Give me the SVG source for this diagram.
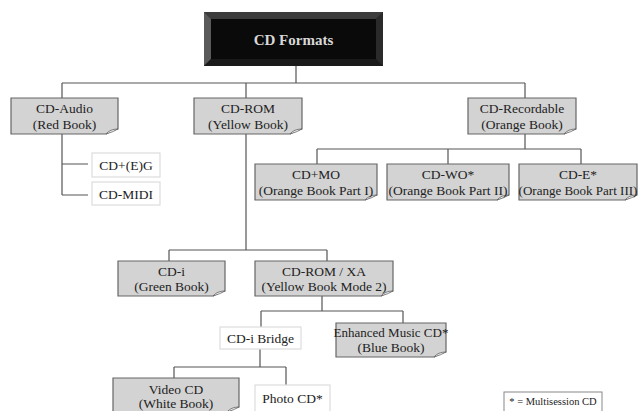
<svg xmlns="http://www.w3.org/2000/svg" width="639" height="411" viewBox="0 0 639 411">
<style>
.n{fill:#d3d3d3;stroke:#666;stroke-width:1.2}
.curl{fill:#f0f0f0;stroke:#666;stroke-width:0.8}
.w{fill:#fff;stroke:#ddd;stroke-width:1.2}
.t{font-family:"Liberation Serif","Times New Roman",serif;font-size:13.5px;fill:#222;text-anchor:middle}
.s{font-size:13px}
.c{stroke:#555;stroke-width:1.2;fill:none}
</style>
<rect width="639" height="411" fill="#fff"/>
<g id="connectors" class="c">
<path d="M296 66V83M62 83H525M62 83V98M246 83V98M525 83V98"/>
<path d="M62 134V195M62 164H88M62 195H88"/>
<path d="M246 134V250M169 250H327M169 250V261M327 250V261"/>
<path d="M525 134V149M317 149H581M317 149V164M448 149V164M581 149V164"/>
<path d="M322 296V311M261 311H403M261 311V327M403 311V323"/>
<path d="M260 349V367M174 367H286M174 367V378M286 367V385"/>
</g>
<g id="root">
<rect x="204" y="12" width="179" height="54" fill="#222"/>
<polygon points="204,12 383,12 376,19 211,19" fill="#3c3c3c"/>
<polygon points="204,12 211,19 211,59 204,66" fill="#5a5a5a"/>
<polygon points="383,12 383,66 376,59 376,19" fill="#2a2a2a"/>
<polygon points="204,66 211,59 376,59 383,66" fill="#1a1a1a"/>
<rect x="211" y="19" width="165" height="40" fill="#0a0a0a"/>
<text x="293.5" y="45" style="font-family:'Liberation Serif','Times New Roman',serif;font-size:15px;font-weight:bold;fill:#d8d8d8;text-anchor:middle">CD Formats</text>
</g>
<g id="cd-audio">
<path class="n" d="M11 98H118V129Q112 130 106 134H11Z"/><path class="curl" d="M106 134Q110 129 118 129Q113 132 106 134Z"/>
<text class="t" x="64.5" y="113">CD-Audio</text><text class="t" x="64.5" y="129">(Red Book)</text>
</g>
<g id="cd-rom">
<path class="n" d="M194 98H302V129Q296 130 290 134H194Z"/><path class="curl" d="M290 134Q294 129 302 129Q297 132 290 134Z"/>
<text class="t" x="248" y="113">CD-ROM</text><text class="t" x="248" y="129">(Yellow Book)</text>
</g>
<g id="cd-recordable">
<path class="n" d="M468 98H576V129Q570 130 564 134H468Z"/><path class="curl" d="M564 134Q568 129 576 129Q571 132 564 134Z"/>
<text class="t" x="522" y="113">CD-Recordable</text><text class="t" x="522" y="129">(Orange Book)</text>
</g>
<g id="cd-eg">
<rect class="w" x="92" y="153" width="68" height="24"/>
<text class="t" x="126" y="170">CD+(E)G</text>
</g>
<g id="cd-midi">
<rect class="w" x="92" y="182" width="68" height="23"/>
<text class="t" x="126" y="199">CD-MIDI</text>
</g>
<g id="cd-mo">
<path class="n" d="M255 164H377V195Q371 196 365 200H255Z"/><path class="curl" d="M365 200Q369 195 377 195Q372 198 365 200Z"/>
<text class="t" x="316" y="179">CD+MO</text><text class="t" x="316" y="195">(Orange Book Part I)</text>
</g>
<g id="cd-wo">
<path class="n" d="M387 164H509V195Q503 196 497 200H387Z"/><path class="curl" d="M497 200Q501 195 509 195Q504 198 497 200Z"/>
<text class="t" x="448" y="179">CD-WO*</text><text class="t" x="448" y="195">(Orange Book Part II)</text>
</g>
<g id="cd-e">
<path class="n" d="M519 164H637V195Q631 196 625 200H519Z"/><path class="curl" d="M625 200Q629 195 637 195Q632 198 625 200Z"/>
<text class="t" x="578" y="179">CD-E*</text><text class="t s" x="578" y="195">(Orange Book Part III)</text>
</g>
<g id="cd-i">
<path class="n" d="M118 261H225V291Q219 292 213 296H118Z"/><path class="curl" d="M213 296Q217 291 225 291Q220 294 213 296Z"/>
<text class="t" x="171.5" y="276">CD-i</text><text class="t" x="171.5" y="291">(Green Book)</text>
</g>
<g id="cd-rom-xa">
<path class="n" d="M255 261H393V291Q387 292 381 296H255Z"/><path class="curl" d="M381 296Q385 291 393 291Q388 294 381 296Z"/>
<text class="t" x="324" y="276">CD-ROM / XA</text><text class="t" x="324" y="291">(Yellow Book Mode 2)</text>
</g>
<g id="cd-i-bridge">
<rect class="w" x="220" y="327" width="81" height="22"/>
<text class="t" x="260.5" y="343">CD-i Bridge</text>
</g>
<g id="enhanced-music-cd">
<path class="n" d="M336 323H446V352Q440 353 434 357H336Z"/><path class="curl" d="M434 357Q438 352 446 352Q441 355 434 357Z"/>
<text class="t s" x="391" y="337">Enhanced Music CD*</text><text class="t" x="391" y="352">(Blue Book)</text>
</g>
<g id="video-cd">
<path class="n" d="M113 378H239V407Q233 408 227 412H113Z"/><path class="curl" d="M227 412Q231 407 239 407Q234 410 227 412Z"/>
<text class="t" x="176" y="394">Video CD</text><text class="t" x="176" y="408">(White Book)</text>
</g>
<g id="photo-cd">
<rect class="w" x="255" y="385" width="75" height="30"/>
<text class="t" x="292.5" y="403">Photo CD*</text>
</g>
<g id="legend">
<rect x="504" y="392" width="98" height="24" fill="#fff" stroke="#888" stroke-width="1"/>
<text x="553" y="405" style="font-family:'Liberation Serif','Times New Roman',serif;font-size:10.5px;fill:#222;text-anchor:middle">* = Multisession CD</text>
</g>
</svg>
